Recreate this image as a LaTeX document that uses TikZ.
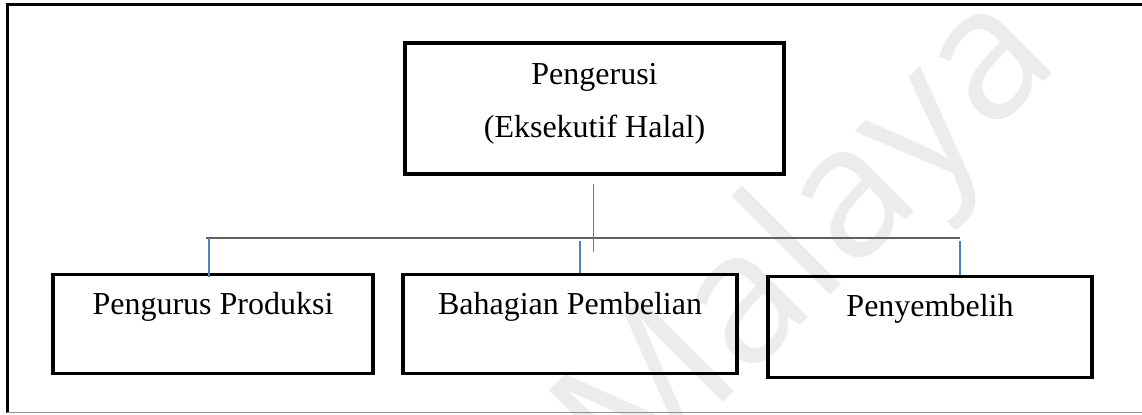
\documentclass[tikz,border=0pt]{standalone}
\usepackage{fontspec}
\setmainfont{Liberation Serif}
\newfontfamily\wmfont{Open Sans}
\usepackage{tikz}
\usetikzlibrary{positioning}
\definecolor{linkc}{RGB}{79,129,189}
\definecolor{busc}{RGB}{96,96,96}
\definecolor{wmc}{RGB}{236,236,236}

\begin{document}
\begin{tikzpicture}[x=0.5pt, y=-0.5pt,
  frame/.style={line width=1.5pt},
  box/.style={draw, line width=1.65pt, inner sep=0pt},
  unit/.style={box, anchor=north, text height=20pt, text depth=29.5pt, font=\fontsize{16}{19}\selectfont},
  head/.style={align=center, inner sep=0pt, font=\fontsize{16}{26.5}\selectfont},
  feed/.style={linkc, line width=0.55pt},
  bus/.style={busc, line width=0.7pt},
  wm/.style={text=wmc, rotate=45, anchor=base, inner sep=0pt, font=\wmfont\fontsize{92}{100}\selectfont}]
\useasboundingbox (0,0) rectangle (1142,415);
\node[wm] (seal) at (846,280) {Malaya};
\draw[frame] (1150,5) -- (7,5) -- (7,413);
\draw[busc!70, line width=0.5pt] (7,413) -- (1150,413);

\node[box, minimum width=189.5pt, minimum height=65.5pt] (chair) at (594.5,108.5) {};
\node[head] (chairname) at (594.5,103.5) {Pengerusi\\(Eksekutif Halal)};
\node[unit, minimum width=160pt] (prod) at (213,273) {Pengurus Produksi};
\node[unit, minimum width=167pt] (purch) at (570,273) {Bahagian Pembelian};
\node[unit, minimum width=162pt, text depth=30.5pt] (slaughter) at (930,275) {Penyembelih};

\coordinate (busl) at (206,238);
\coordinate (busr) at (960,238);
\draw[bus] (busl) -- (busr);
\draw[feed] (chair.south) ++(-1,8) -- ++(0,68);
\draw[feed] ([xshift=-2pt,yshift=-2pt]prod.north) -- ([xshift=-2pt]prod.north |- busl);
\draw[feed] ([xshift=5pt]purch.north) -- ++(0,-32);
\draw[feed] ([xshift=15pt]slaughter.north) -- ++(0,-34);
\end{tikzpicture}
\end{document}
